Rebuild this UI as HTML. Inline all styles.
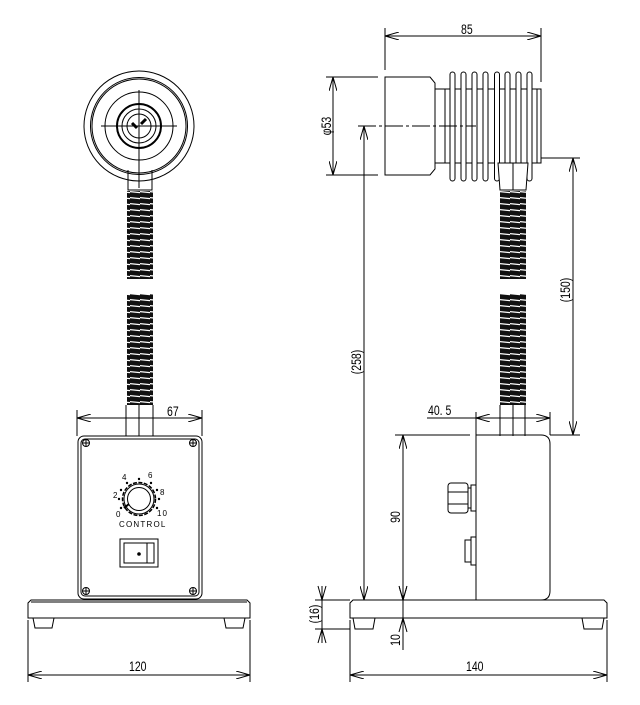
<!DOCTYPE html>
<html><head><meta charset="utf-8"><style>
html,body{margin:0;padding:0;background:#fff;}
svg{display:block;}
text{font-family:"Liberation Sans",sans-serif;fill:#000;}
</style></head><body>
<svg width="640" height="705" viewBox="0 0 640 705" xmlns="http://www.w3.org/2000/svg">
<defs>
<pattern id="coil" x="0" y="0" width="10" height="6" patternUnits="userSpaceOnUse">
<rect width="30" height="6" fill="#fff"/>
<path d="M0,0.3 L10,1.3 L10,6 L0,5 Z" fill="#111"/>
</pattern>
<marker id="a" viewBox="0 0 14 8" refX="14" refY="4" markerWidth="14" markerHeight="8" markerUnits="userSpaceOnUse" orient="auto-start-reverse">
<path d="M0,0 L14,4 L0,8" fill="none" stroke="#000" stroke-width="1"/>
</marker>
</defs>
<g fill="none" stroke="#000" stroke-width="1">
<circle cx="139" cy="126" r="55"/>
<circle cx="139" cy="126" r="48.5"/>
<circle cx="139" cy="126" r="47"/>
<circle cx="139" cy="126" r="34"/>
<circle cx="139" cy="126" r="22" stroke-width="2"/>
<circle cx="139" cy="126" r="17"/>
<circle cx="139" cy="126" r="12"/>
<line x1="101" y1="126" x2="177" y2="126"/>
<line x1="139" y1="90" x2="139" y2="188"/>
<path d="M128,170 L128,190 L152,190 L152,170"/>
<g stroke="#000" stroke-width="3"><line x1="132" y1="123" x2="137" y2="128"/><line x1="141" y1="124" x2="146" y2="119"/></g>
<rect x="127" y="191" width="26" height="88" fill="url(#coil)" stroke="none"/>
<rect x="127" y="294" width="26" height="111" fill="url(#coil)" stroke="none"/>
<path d="M126,405 L126,436 M153,405 L153,436 M139,405 L139,436"/>
<rect x="78" y="436" width="124" height="163" rx="6"/>
<rect x="81" y="439" width="118" height="157" rx="4"/>
<g>
<circle cx="86" cy="443" r="3.5"/><circle cx="193" cy="443" r="3.5"/>
<circle cx="86" cy="591" r="3.5"/><circle cx="193" cy="591" r="3.5"/>
<path d="M83,443h6M86,440v6M190,443h6M193,440v6M83,591h6M86,588v6M190,591h6M193,588v6"/>
</g>
<circle cx="139" cy="499" r="16.5" stroke-dasharray="4 1.5" stroke-width="1.5"/>
<circle cx="139" cy="499" r="15"/>
<circle cx="139" cy="499" r="11.5"/>
<line x1="124" y1="508" x2="129" y2="504" stroke-width="2"/>
<g fill="#000" stroke="none">
<circle cx="119" cy="499" r="1.2"/><circle cx="121" cy="490" r="1.2"/><circle cx="127" cy="483" r="1.2"/><circle cx="139" cy="479" r="1.2"/><circle cx="151" cy="483" r="1.2"/><circle cx="157" cy="490" r="1.2"/><circle cx="159" cy="499" r="1.2"/><circle cx="157" cy="508" r="1.2"/><circle cx="121" cy="508" r="1.2"/><circle cx="139" cy="554" r="1.8"/>
</g>
<rect x="120" y="539" width="38" height="28"/>
<rect x="124" y="543" width="30" height="20"/>
<line x1="147" y1="543" x2="147" y2="563"/>
<path d="M28,618 L28,603 L31,600 L247,600 L250,603 L250,618 Z"/>
<line x1="31" y1="602" x2="247" y2="602"/>
<path d="M33,618 L35,628 L52,628 L54,618 M224,618 L226,628 L243,628 L245,618"/>
<line x1="77" y1="410" x2="77" y2="436"/><line x1="202" y1="410" x2="202" y2="436"/>
<line x1="77" y1="418" x2="202" y2="418" marker-start="url(#a)" marker-end="url(#a)"/>
<line x1="28" y1="620" x2="28" y2="682"/><line x1="250" y1="620" x2="250" y2="682"/>
<line x1="28" y1="675" x2="250" y2="675" marker-start="url(#a)" marker-end="url(#a)"/>

<path d="M385,77 L430,77 L435,83 L435,169 L430,175 L385,175 Z"/>
<path d="M435,89 L541,89 L541,163 L435,163"/>
<line x1="445" y1="89" x2="445" y2="163"/>
<line x1="537" y1="89" x2="537" y2="163"/>
<g fill="#fff">
<rect x="450" y="72" width="5" height="109" rx="2.5"/>
<rect x="461" y="72" width="5" height="109" rx="2.5"/>
<rect x="472" y="72" width="5" height="109" rx="2.5"/>
<rect x="483" y="72" width="5" height="109" rx="2.5"/>
<rect x="494.5" y="72" width="5" height="109" rx="2.5"/>
<rect x="505" y="72" width="5" height="109" rx="2.5"/>
<rect x="516" y="72" width="5" height="109" rx="2.5"/>
<rect x="527" y="72" width="5" height="109" rx="2.5"/>
</g>
<path d="M498,163 L500,190 L526,190 L528,163 Z" fill="#fff"/>
<line x1="513" y1="163" x2="513" y2="190"/>
<line x1="358" y1="126" x2="476" y2="126" stroke-dasharray="18 3 3 3"/>
<rect x="500" y="191" width="26" height="88" fill="url(#coil)" stroke="none"/>
<rect x="500" y="294" width="26" height="111" fill="url(#coil)" stroke="none"/>
<path d="M500,405 L500,436 M525,405 L525,436 M513,405 L513,436"/>
<path d="M476,435 L541,435 Q550,435 550,444 L550,591 Q550,600 541,600 L476,600 Z"/>
<rect x="448" y="483" width="20" height="30" rx="3"/>
<line x1="448" y1="492" x2="468" y2="492"/><line x1="448" y1="504" x2="468" y2="504"/>
<rect x="468" y="488" width="3" height="20"/><rect x="471" y="485" width="5" height="26"/>
<rect x="465" y="540" width="6" height="22"/><rect x="471" y="537" width="5" height="28"/>
<path d="M350,618 L350,603 L353,600 L604,600 L607,603 L607,618 Z"/>
<path d="M353,618 L355,629 L373,629 L375,618 M582,618 L584,629 L602,629 L604,618"/>
<line x1="385" y1="28" x2="385" y2="70"/><line x1="541" y1="28" x2="541" y2="82"/>
<line x1="385" y1="36" x2="541" y2="36" marker-start="url(#a)" marker-end="url(#a)"/>
<line x1="326" y1="77" x2="378" y2="77"/><line x1="326" y1="175" x2="378" y2="175"/>
<line x1="333" y1="77" x2="333" y2="175" marker-start="url(#a)" marker-end="url(#a)"/>
<line x1="364" y1="126" x2="364" y2="600" marker-start="url(#a)" marker-end="url(#a)"/>
<line x1="541" y1="158" x2="580" y2="158"/><line x1="550" y1="435" x2="580" y2="435"/>
<line x1="573" y1="158" x2="573" y2="435" marker-start="url(#a)" marker-end="url(#a)"/>
<line x1="427" y1="418" x2="476" y2="418"/>
<line x1="550" y1="412" x2="550" y2="435"/><line x1="476" y1="412" x2="476" y2="435"/>
<line x1="476" y1="418" x2="550" y2="418" marker-start="url(#a)" marker-end="url(#a)"/>
<line x1="395" y1="435" x2="470" y2="435"/>
<line x1="403" y1="435" x2="403" y2="600" marker-start="url(#a)" marker-end="url(#a)"/>
<line x1="403" y1="600" x2="403" y2="650"/>
<path d="M399,586 L403,600 L407,586 M399,632 L403,618 L407,632"/>
<line x1="315" y1="600" x2="350" y2="600"/><line x1="315" y1="629" x2="350" y2="629"/>
<line x1="322" y1="586" x2="322" y2="643"/>
<path d="M318,586 L322,600 L326,586 M318,643 L322,629 L326,643"/>
<line x1="350" y1="620" x2="350" y2="682"/><line x1="607" y1="620" x2="607" y2="682"/>
<line x1="350" y1="675" x2="607" y2="675" marker-start="url(#a)" marker-end="url(#a)"/>
</g>
<g font-size="14">
<text transform="translate(167,416) scale(0.75,1)">67</text>
<text transform="translate(129,671) scale(0.75,1)">120</text>
<text transform="translate(461,34) scale(0.75,1)">85</text>
<text transform="translate(428,415) scale(0.75,1)">40. 5</text>
<text transform="translate(466,671) scale(0.75,1)">140</text>
<text transform="translate(331,126) rotate(-90) scale(0.75,1)" text-anchor="middle">φ53</text>
<text transform="translate(361,362) rotate(-90) scale(0.75,1)" text-anchor="middle">(258)</text>
<text transform="translate(570,290) rotate(-90) scale(0.75,1)" text-anchor="middle">(150)</text>
<text transform="translate(400,517) rotate(-90) scale(0.75,1)" text-anchor="middle">90</text>
<text transform="translate(400,640) rotate(-90) scale(0.75,1)" text-anchor="middle">10</text>
<text transform="translate(319,614) rotate(-90) scale(0.75,1)" text-anchor="middle">(16)</text>
</g>
<g font-size="8">
<text x="122" y="480">4</text><text x="148" y="478">6</text>
<text x="113" y="498">2</text><text x="160" y="495">8</text>
<text x="116" y="517">0</text><text x="157" y="516" letter-spacing="1">10</text>
<text x="119" y="527" letter-spacing="1.2">CONTROL</text>
</g>
</svg>
</body></html>
